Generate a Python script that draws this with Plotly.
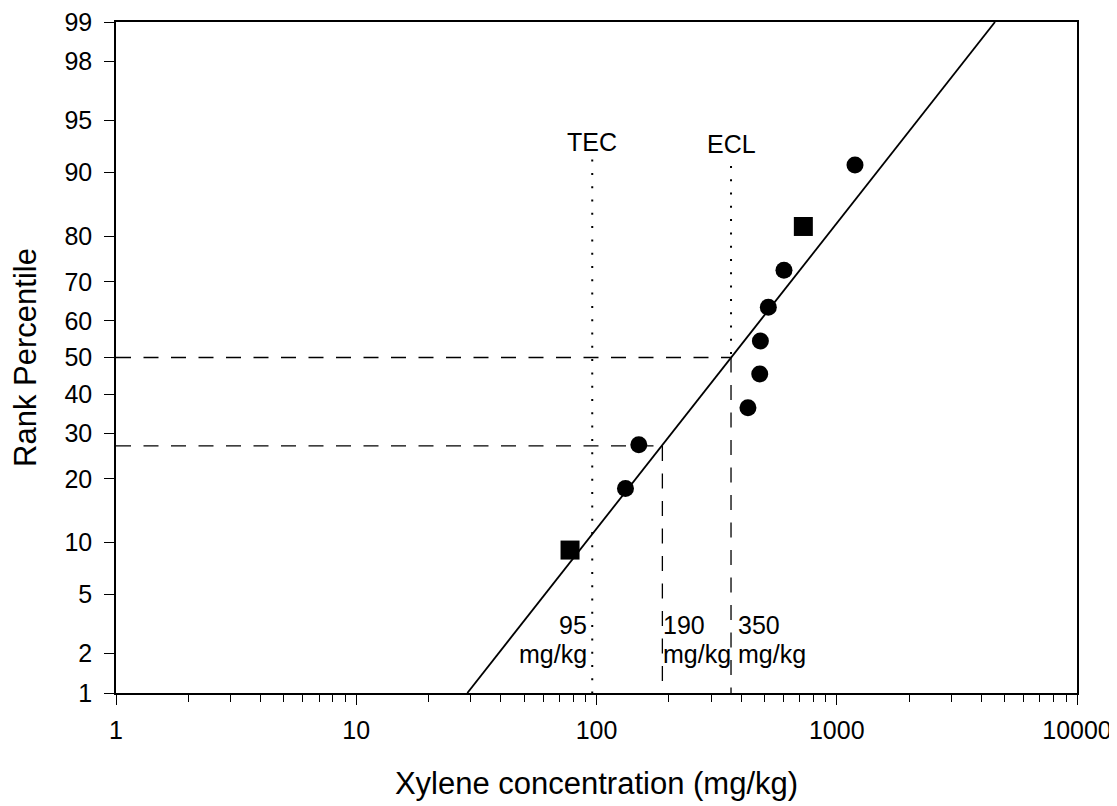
from statistics import NormalDist
import math
import plotly.graph_objects as go

# ---------------- data ----------------
circle_x = [132, 150, 427, 478, 481, 519, 603, 1191]
circle_p = [18.18, 27.27, 36.36, 45.45, 54.55, 63.64, 72.73, 90.91]
square_x = [77.6, 726]
square_p = [9.09, 81.82]

fit_x = [29.0, 4557]
fit_p = [1, 99]

tec_x = 96          # TEC dotted line
tec_top_p = 91.5
ecl_x = 363         # ECL line (50th percentile intercept)
ecl_top_p = 90.8
low_x = 188         # 27th percentile intercept
low_p = 27
mid_p = 50
x_min = 1
p_min = 1

y_tick_labels = [1, 2, 5, 10, 20, 30, 40, 50, 60, 70, 80, 90, 95, 98, 99]
x_tick_labels = [1, 10, 100, 1000, 10000]

FONT = "Liberation Sans, Arial, sans-serif"
nd = NormalDist()


def z(p):
    return [nd.inv_cdf(v / 100.0) for v in p]


fig = go.Figure()

DASH = "15px,12.5px"
DOT = "2px,11.3px"

# horizontal dashed reference lines
fig.add_trace(go.Scatter(x=[x_min, ecl_x], y=z([mid_p, mid_p]), mode="lines",
                         line=dict(color="black", width=1.3, dash=DASH), hoverinfo="skip"))
fig.add_trace(go.Scatter(x=[x_min, low_x], y=z([low_p, low_p]), mode="lines",
                         line=dict(color="black", width=1.3, dash=DASH), hoverinfo="skip"))
# vertical dashed reference lines
fig.add_trace(go.Scatter(x=[ecl_x, ecl_x], y=z([mid_p, p_min]), mode="lines",
                         line=dict(color="black", width=1.3, dash=DASH), hoverinfo="skip"))
fig.add_trace(go.Scatter(x=[low_x, low_x], y=z([low_p, p_min]), mode="lines",
                         line=dict(color="black", width=1.3, dash=DASH), hoverinfo="skip"))
# dotted lines (TEC, ECL)
fig.add_trace(go.Scatter(x=[tec_x, tec_x], y=z([tec_top_p, p_min]), mode="lines",
                         line=dict(color="black", width=2, dash=DOT), hoverinfo="skip"))
fig.add_trace(go.Scatter(x=[ecl_x, ecl_x], y=z([ecl_top_p, mid_p]), mode="lines",
                         line=dict(color="black", width=2, dash=DOT), hoverinfo="skip"))

# regression line
fig.add_trace(go.Scatter(x=fit_x, y=z(fit_p), mode="lines",
                         line=dict(color="black", width=1.8), hoverinfo="skip"))

# data points
fig.add_trace(go.Scatter(x=circle_x, y=z(circle_p), mode="markers",
                         marker=dict(symbol="circle", size=17, color="black")))
fig.add_trace(go.Scatter(x=square_x, y=z(square_p), mode="markers",
                         marker=dict(symbol="square", size=19, color="black")))

ann_font = dict(family=FONT, size=25, color="black")
annotations = [
    dict(x=math.log10(tec_x), y=1 - (142 - 22) / 671, text="TEC", xanchor="center"),
    dict(x=math.log10(ecl_x), y=1 - (144 - 22) / 671, text="ECL", xanchor="center"),
    dict(x=math.log10(tec_x), y=1 - (625 - 22) / 671, text="95", xanchor="right", xshift=-3),
    dict(x=math.log10(tec_x), y=1 - (654 - 22) / 671, text="mg/kg", xanchor="right", xshift=-3),
    dict(x=math.log10(low_x), y=1 - (625 - 22) / 671, text="190", xanchor="left", xshift=-1),
    dict(x=math.log10(low_x), y=1 - (654 - 22) / 671, text="mg/kg", xanchor="left", xshift=-1),
    dict(x=math.log10(ecl_x), y=1 - (625 - 22) / 671, text="350", xanchor="left", xshift=5),
    dict(x=math.log10(ecl_x), y=1 - (654 - 22) / 671, text="mg/kg", xanchor="left", xshift=5),
]
for a in annotations:
    a.update(xref="x", yref="paper", showarrow=False, font=ann_font, yanchor="middle")

# page body adds an 8px offset, so the figure is placed 8px up/left
fig.update_layout(
    width=1109, height=798,
    margin=dict(l=108, r=40, t=14, b=113, autoexpand=False),
    paper_bgcolor="white", plot_bgcolor="white",
    showlegend=False,
    font=dict(family=FONT, color="black"),
    annotations=annotations,
)

fig.update_xaxes(
    type="log", range=[-1e-6, 4 + 1e-6], automargin=False,
    tickvals=x_tick_labels, ticktext=[str(v) for v in x_tick_labels],
    ticks="outside", ticklen=10, tickwidth=1.3, tickcolor="black",
    showline=True, linecolor="black", linewidth=1.5, mirror=True,
    showgrid=False, zeroline=False,
    tickfont=dict(family=FONT, size=25, color="black"),
    ticklabelstandoff=4, ticklabeloverflow="allow",
    minor=dict(ticks="outside", ticklen=7, tickwidth=1.1, tickcolor="black",
               dtick="D1", showgrid=False),
    title=dict(text="Xylene concentration (mg/kg)",
               font=dict(family=FONT, size=31, color="black"), standoff=30),
)

eps = 1e-6
fig.update_yaxes(
    range=[nd.inv_cdf(0.01) - eps, nd.inv_cdf(0.99) + eps], automargin=False,
    tickvals=z(y_tick_labels), ticktext=[str(v) for v in y_tick_labels],
    ticks="outside", ticklen=10, tickwidth=1.3, tickcolor="black",
    showline=True, linecolor="black", linewidth=1.5, mirror=True,
    showgrid=False, zeroline=False,
    tickfont=dict(family=FONT, size=25, color="black"),
    ticklabelstandoff=7, ticklabeloverflow="allow",
    title=dict(text="Rank Percentile",
               font=dict(family=FONT, size=31, color="black"), standoff=20),
)

fig.write_html("out.html")
